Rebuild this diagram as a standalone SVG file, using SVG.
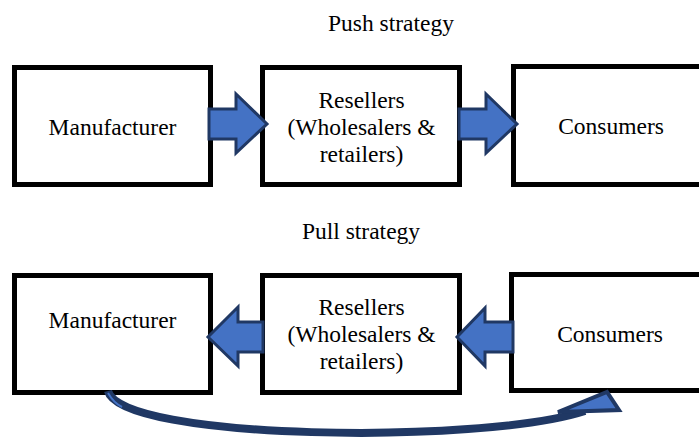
<svg xmlns="http://www.w3.org/2000/svg" width="699" height="439" viewBox="0 0 699 439">
<style>
.box{fill:#ffffff;stroke:#000000;stroke-width:5}
.t{font-family:"Liberation Serif","Times New Roman",serif;font-size:23.5px;fill:#000000;text-anchor:middle}
.arr{fill:#4472C4;stroke:#203864;stroke-width:3;stroke-linejoin:miter}
</style>
<rect width="699" height="439" fill="#ffffff"/>
<text class="t" x="391" y="31">Push strategy</text>
<text class="t" x="361" y="239">Pull strategy</text>
<g id="push-manufacturer"><rect class="box" x="14.5" y="67.5" width="196" height="117"/><text class="t" x="112.5" y="135">Manufacturer</text></g>
<g id="push-resellers"><rect class="box" x="262.5" y="67.5" width="197" height="117"/><text class="t" x="361.5" y="108">Resellers</text><text class="t" x="361.5" y="135">(Wholesalers &amp;</text><text class="t" x="361.5" y="162">retailers)</text></g>
<g id="push-consumers"><rect class="box" x="513.5" y="66.5" width="200" height="118"/><text class="t" x="611" y="134">Consumers</text></g>
<g id="pull-manufacturer"><rect class="box" x="14.5" y="275.5" width="196" height="117"/><text class="t" x="112.5" y="328">Manufacturer</text></g>
<g id="pull-resellers"><rect class="box" x="262.5" y="275.5" width="197" height="117"/><text class="t" x="361.5" y="315">Resellers</text><text class="t" x="361.5" y="342">(Wholesalers &amp;</text><text class="t" x="361.5" y="369">retailers)</text></g>
<g id="pull-consumers"><rect class="box" x="511.5" y="274.5" width="200" height="116"/><text class="t" x="610" y="342">Consumers</text></g>
<g id="connectors">
<polygon class="arr" points="209,109 236,109 236,94 267,124 236,153 236,139 209,139"/>
<polygon class="arr" points="459,109 486,109 486,94 517,124 486,153 486,139 459,139"/>
<polygon class="arr" points="263,322 238,322 238,307 208,337 238,366 238,352 263,352"/>
<polygon class="arr" points="513,322 485,322 485,308 457,337 485,366 485,352 513,352"/>
<path d="M 108 391 C 120 440, 480 445, 585 411" fill="none" stroke="#203864" stroke-width="8"/>
<path d="M 108 393 C 112 400, 116 404, 122 407" fill="none" stroke="#4472C4" stroke-width="2"/>
<polygon points="558,412 607,392 619,410" fill="#4472C4" stroke="#203864" stroke-width="4" stroke-linejoin="miter"/>
</g>
</svg>
